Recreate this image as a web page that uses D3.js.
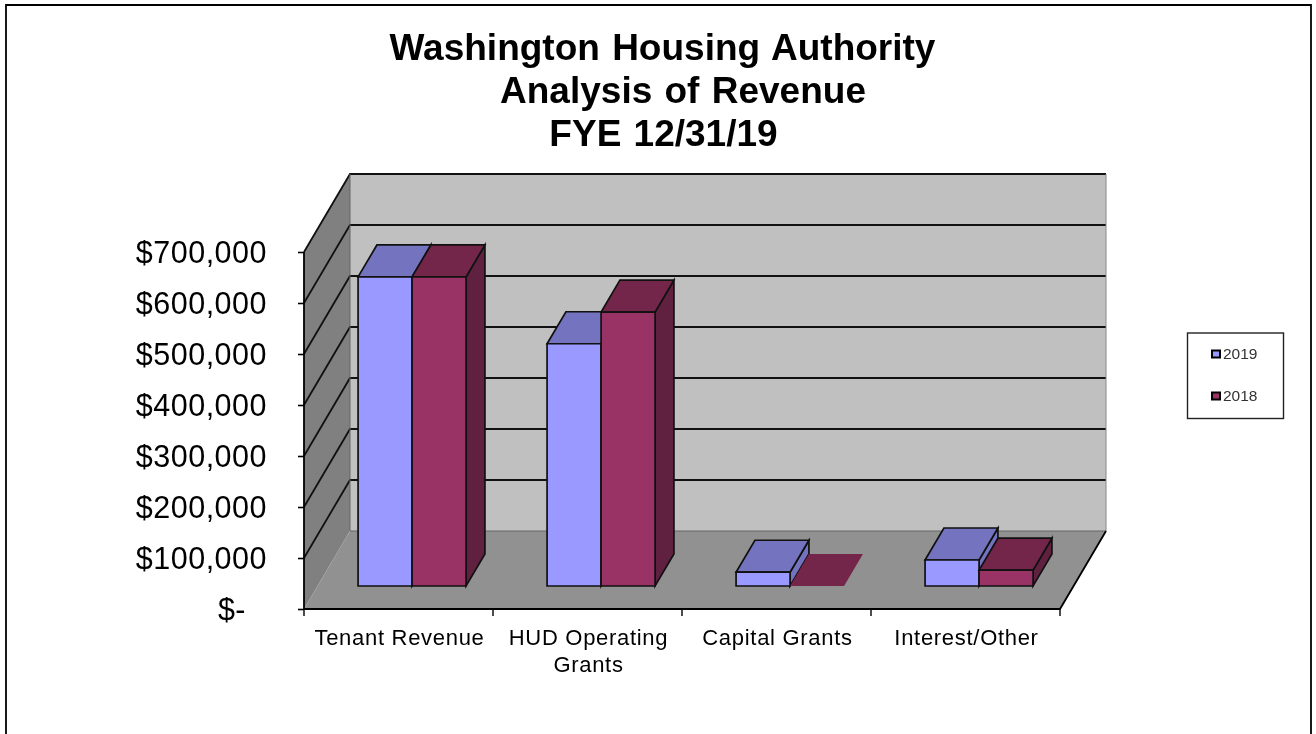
<!DOCTYPE html>
<html>
<head>
<meta charset="utf-8">
<script src="https://cdn.jsdelivr.net/npm/d3@7"></script>
<style>
html, body { margin: 0; padding: 0; background: #fff; overflow: hidden; }
svg { display: block; filter: blur(0.4px); }
text { font-family: "Liberation Sans", Arial, sans-serif; fill: #000; }
</style>
</head>
<body>
<div id="chart"></div>
<script>
var categories = ["Tenant Revenue", "HUD Operating Grants", "Capital Grants", "Interest/Other"];
var seriesNames = ["2019", "2018"];
var values2019 = [606000, 475000, 27000, 51000];
var values2018 = [606000, 537000, 0, 31000];
var tickValues = [0, 100000, 200000, 300000, 400000, 500000, 600000, 700000];
var titleLines = ["Washington Housing Authority", "Analysis of Revenue", "FYE 12/31/19"];

var width = 1316, height = 734;
var colors = {
  "2019": {front: "#9999ff", top: "#7373bf", side: "#7373bf"},
  "2018": {front: "#993366", top: "#732649", side: "#60203f"}
};

var svg = d3.select("#chart").append("svg")
  .attr("width", width)
  .attr("height", height);

// outer frame, bottom edge is cut off by the picture
svg.append("path")
  .attr("d", "M6,734V5H1311V734")
  .attr("fill", "none")
  .attr("stroke", "#000")
  .attr("stroke-width", 1.8);

// title
var titleX = [662.5, 683, 663.5];
var titleY = [60, 103, 146];
svg.selectAll(".title").data(titleLines).enter().append("text")
  .attr("class", "title")
  .attr("x", function(d, i) { return titleX[i]; })
  .attr("y", function(d, i) { return titleY[i]; })
  .attr("text-anchor", "middle")
  .style("font-size", "37px")
  .style("font-weight", "bold")
  .style("word-spacing", "2px")
  .text(function(d) { return d; });

// front plane scales, everything else is shifted back from them
var x = d3.scaleBand().domain(categories).range([304, 1060]);
var y = d3.scaleLinear().domain([0, 700000]).range([609, 252]);
var depthX = 46, depthY = -78; // full depth of the box

var shift = function(px, py, d) { return [px + depthX*d, py + depthY*d]; };
var poly = function(pts) { return pts.map(function(p) { return p.join(","); }).join(" "); };

var y0 = y(0), yTop = y(700000);
var x0 = x.range()[0], x1 = x.range()[1];

// walls
var plot = svg.append("g");
plot.append("polygon") // back wall
  .attr("points", poly([shift(x0, yTop, 1), shift(x1, yTop, 1), shift(x1, y0, 1), shift(x0, y0, 1)]))
  .attr("fill", "#c0c0c0");
plot.append("polygon") // left wall
  .attr("points", poly([[x0, y0], [x0, yTop], shift(x0, yTop, 1), shift(x0, y0, 1)]))
  .attr("fill", "#808080");
plot.append("polygon") // floor
  .attr("points", poly([[x0, y0], [x1, y0], shift(x1, y0, 1), shift(x0, y0, 1)]))
  .attr("fill", "#919191");

// gridlines run along left wall and back wall
plot.selectAll(".grid").data(tickValues.slice(1)).enter().append("polyline")
  .attr("class", "grid")
  .attr("points", function(d) {
    return poly([[x0, y(d)], shift(x0, y(d), 1), shift(x1, y(d), 1)]);
  })
  .attr("fill", "none")
  .attr("stroke", "#111")
  .attr("stroke-width", 1.8);

// thin edges of the box
plot.append("line")
  .attr("x1", shift(x0, y0, 1)[0]).attr("y1", shift(x0, y0, 1)[1])
  .attr("x2", shift(x1, y0, 1)[0]).attr("y2", shift(x1, y0, 1)[1])
  .attr("stroke", "#666").attr("stroke-width", 1);
plot.append("line")
  .attr("x1", shift(x0, y0, 1)[0]).attr("y1", shift(x0, y0, 1)[1])
  .attr("x2", shift(x0, yTop, 1)[0]).attr("y2", shift(x0, yTop, 1)[1])
  .attr("stroke", "#666").attr("stroke-width", 1);
plot.append("line")
  .attr("x1", shift(x1, y0, 1)[0]).attr("y1", shift(x1, y0, 1)[1])
  .attr("x2", shift(x1, yTop, 1)[0]).attr("y2", shift(x1, yTop, 1)[1])
  .attr("stroke", "#888").attr("stroke-width", 1);

// axis lines
plot.append("polyline")
  .attr("points", poly([[x0, yTop], [x0, y0], [x1, y0], shift(x1, y0, 1)]))
  .attr("fill", "none").attr("stroke", "#000").attr("stroke-width", 1.8);

// y axis, ticks and labels
var yAxis = d3.axisLeft(y)
  .tickValues(tickValues)
  .tickSize(6)
  .tickPadding(31)
  .tickFormat(function(d) { return d === 0 ? "$-" : d3.format("$,")(d); });
var yG = svg.append("g").attr("transform", "translate(" + x0 + ",0)").call(yAxis);
yG.select(".domain").remove();
yG.selectAll("text")
  .style("font-size", "30.5px")
  .style("letter-spacing", "0.5px")
  .style("font-family", '"Liberation Sans", Arial, sans-serif')
  .attr("dx", function(d) { return d === 0 ? -21 : 0; })
  .attr("y", 1);
yG.selectAll("line").attr("stroke", "#000").attr("stroke-width", 1.6);

// x axis ticks and wrapped labels
var xTicks = categories.map(function(c) { return x(c); }).concat([x1]);
svg.selectAll(".xtick").data(xTicks).enter().append("line")
  .attr("class", "xtick")
  .attr("x1", function(d) { return d; })
  .attr("x2", function(d) { return d; })
  .attr("y1", y0)
  .attr("y2", y0 + 7)
  .attr("stroke", "#000")
  .attr("stroke-width", 1.4);

var xLabelLines = [["Tenant Revenue"], ["HUD Operating", "Grants"], ["Capital Grants"], ["Interest/Other"]];
var xLabels = svg.selectAll(".xlab").data(categories).enter().append("text")
  .attr("class", "xlab")
  .attr("text-anchor", "middle")
  .style("font-size", "22px")
  .style("letter-spacing", "0.7px");
xLabels.selectAll("tspan")
  .data(function(d, i) { return xLabelLines[i].map(function(t) { return {t: t, c: d}; }); })
  .enter().append("tspan")
  .attr("x", function(d) { return x(d.c) + x.bandwidth()/2 + 1; })
  .attr("y", function(d, i) { return 645 + i*27; })
  .text(function(d) { return d.t; });

// bars, floor position 0.295 of the way back, 0.41 of the box deep
var barFront = 0.295, barDepth = 0.41;
var inner = d3.scaleBand().domain(seriesNames).range([0, x.bandwidth()]).paddingOuter(0.75).paddingInner(0);

var bars = [];
categories.forEach(function(c, i) {
  bars.push({cat: c, series: "2019", value: values2019[i]});
  bars.push({cat: c, series: "2018", value: values2018[i]});
});

var barG = svg.selectAll(".bar").data(bars).enter().append("g").attr("class", "bar");

barG.each(function(d) {
  var g = d3.select(this);
  var c = colors[d.series];
  var left = x(d.cat) + inner(d.series);
  var right = left + inner.bandwidth();
  var a = shift(left, y(0), barFront);
  var b = shift(right, y(0), barFront);
  var t = shift(left, y(d.value), barFront);
  var u = shift(right, y(d.value), barFront);
  var t2 = shift(left, y(d.value), barFront + barDepth);
  var u2 = shift(right, y(d.value), barFront + barDepth);
  var b2 = shift(right, y(0), barFront + barDepth);
  var edge = d.value === 0 ? "none" : "#111";
  g.append("polygon").attr("points", poly([b, u, u2, b2]))
    .attr("fill", c.side).attr("stroke", edge).attr("stroke-width", 1.7);
  g.append("polygon").attr("points", poly([t, u, u2, t2]))
    .attr("fill", c.top).attr("stroke", edge).attr("stroke-width", 1.7);
  g.append("polygon").attr("points", poly([a, b, u, t]))
    .attr("fill", c.front).attr("stroke", edge).attr("stroke-width", 1.7);
});

// legend
var legend = svg.append("g");
legend.append("rect")
  .attr("x", 1187.5).attr("y", 333)
  .attr("width", 96).attr("height", 85.5)
  .attr("fill", "#fff")
  .attr("stroke", "#222")
  .attr("stroke-width", 1.4);
var legendY = d3.scalePoint().domain(seriesNames).range([354, 396]);
legend.selectAll(".key").data(seriesNames).enter().append("rect")
  .attr("class", "key")
  .attr("x", 1212)
  .attr("y", function(d) { return legendY(d) - 3.5; })
  .attr("width", 8).attr("height", 7)
  .attr("fill", function(d) { return colors[d].front; })
  .attr("stroke", "#000")
  .attr("stroke-width", 2);
legend.selectAll(".ltext").data(seriesNames).enter().append("text")
  .attr("class", "ltext")
  .attr("x", 1223)
  .attr("y", function(d) { return legendY(d) + 5; })
  .style("font-size", "15.5px")
  .style("fill", "#333")
  .text(function(d) { return d; });
</script>
</body>
</html>
